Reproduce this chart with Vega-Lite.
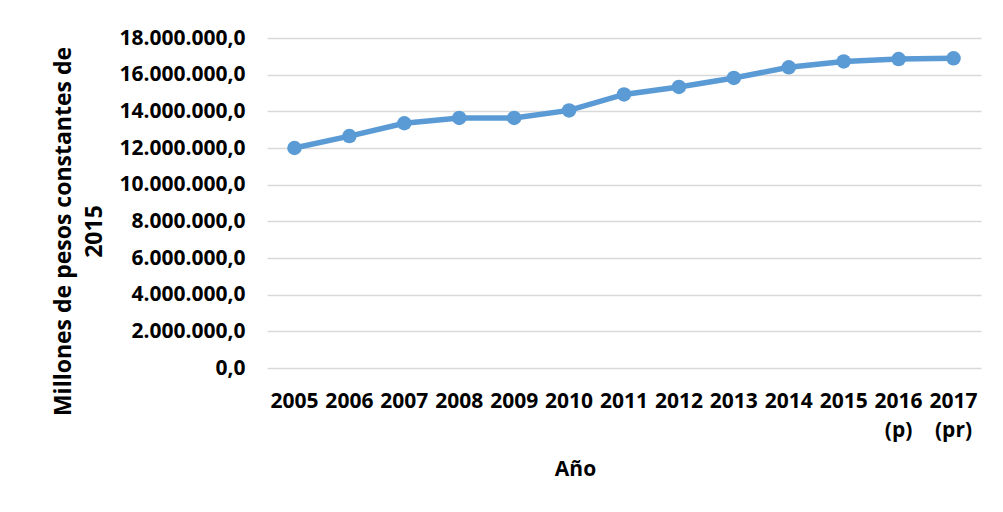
{
  "$schema": "https://vega.github.io/schema/vega-lite/v6.json",
  "width": 714,
  "height": 330,
  "autosize": "none",
  "padding": {"left": 267, "top": 38, "right": 22, "bottom": 144},
  "background": "white",
  "config": {
    "locale": {"number": {"decimal": ",", "thousands": ".", "grouping": [3], "currency": ["$", ""]}},
    "view": {"stroke": null},
    "font": "Open Sans"
  },
  "data": {
    "values": [
      {"year": "2005", "value": 12000000},
      {"year": "2006", "value": 12650000},
      {"year": "2007", "value": 13350000},
      {"year": "2008", "value": 13640000},
      {"year": "2009", "value": 13640000},
      {"year": "2010", "value": 14050000},
      {"year": "2011", "value": 14920000},
      {"year": "2012", "value": 15330000},
      {"year": "2013", "value": 15820000},
      {"year": "2014", "value": 16400000},
      {"year": "2015", "value": 16720000},
      {"year": "2016 (p)", "value": 16850000},
      {"year": "2017 (pr)", "value": 16890000}
    ]
  },
  "mark": {
    "type": "line",
    "color": "#5B9BD5",
    "strokeWidth": 5.5,
    "point": {"filled": true, "size": 210, "color": "#5B9BD5", "opacity": 1}
  },
  "encoding": {
    "x": {
      "field": "year",
      "type": "ordinal",
      "sort": null,
      "scale": {"type": "band", "paddingInner": 0, "paddingOuter": 0},
      "axis": {
        "title": "Año",
        "labelAngle": 0,
        "labelExpr": "split(datum.label, ' ')",
        "labelFont": "Open Sans",
        "labelFontSize": 21,
        "labelFontWeight": "bold",
        "labelColor": "black",
        "labelLineHeight": 29,
        "labelBaseline": "alphabetic",
        "labelPadding": 39,
        "ticks": false,
        "tickSize": 0,
        "domain": false,
        "grid": false,
        "titleFont": "Open Sans",
        "titleFontSize": 21,
        "titleFontWeight": "bold",
        "titleColor": "black",
        "titleX": 308,
        "titleY": 107,
        "titleBaseline": "alphabetic",
        "titleAlign": "center"
      }
    },
    "y": {
      "field": "value",
      "type": "quantitative",
      "scale": {"domain": [0, 18000000], "nice": false},
      "axis": {
        "title": ["Millones de pesos constantes de", "2015"],
        "values": [0, 2000000, 4000000, 6000000, 8000000, 10000000, 12000000, 14000000, 16000000, 18000000],
        "format": ",.1f",
        "labelFont": "Open Sans",
        "labelFontSize": 21,
        "labelFontWeight": "bold",
        "labelColor": "black",
        "labelPadding": 22,
        "ticks": false,
        "tickSize": 0,
        "domain": false,
        "grid": true,
        "gridColor": "#D9D9D9",
        "gridWidth": 1.3,
        "titleFont": "Open Sans",
        "titleFontSize": 23,
        "titleFontWeight": "bold",
        "titleColor": "black",
        "titleAngle": -90,
        "titleX": -197,
        "titleY": 193,
        "titleAlign": "center",
        "titleBaseline": "alphabetic",
        "titleLineHeight": 31.7
      }
    }
  }
}
